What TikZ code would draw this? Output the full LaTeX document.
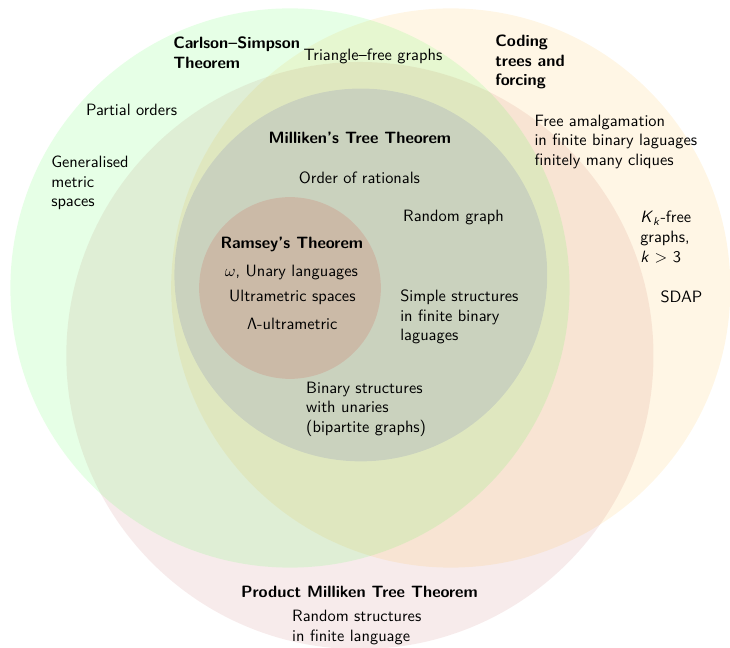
\documentclass[tikz,border=0pt]{standalone}
\usepackage{amsmath}
\usepackage{amssymb}

\definecolor{csgreen}{rgb}{0.3,1,0.3}
\definecolor{codeorange}{rgb}{1,0.65,0}
\definecolor{prodred}{rgb}{0.6,0,0}
\definecolor{millblue}{rgb}{0.05,0.1,0.7}
\definecolor{ramseyred}{rgb}{0.82,0.45,0.39}

\begin{document}
\begin{tikzpicture}[
  every node/.style={font=\sffamily, inner sep=0pt},
  title/.style={font=\sffamily\bfseries},
  block/.style={align=left, anchor=west}
]
\useasboundingbox (-6.223,-7.725) rectangle (9.442,6.180);

% Circles
\fill[prodred, fill opacity=0.08] (1.5,-1.45) circle (6.3);
\fill[codeorange, fill opacity=0.1] (3.45,0) circle (6);
\fill[csgreen, fill opacity=0.14] (0,0) circle (6);
\fill[millblue, fill opacity=0.1] (1.52,0.28) circle (4);
\fill[ramseyred, fill opacity=0.25] (0,0) circle (1.95);

% Carlson--Simpson
\node[title, block] (cs) at (-2.51,5.05) {Carlson--Simpson\\Theorem};
\node (tri) at (1.78,4.96) {Triangle--free graphs};
\node (po) at (-3.40,3.82) {Partial orders};
\node[block] (gms) at (-5.13,2.25) {Generalised\\metric\\spaces};

% Coding trees
\node[title, block] (ct) at (4.40,4.85) {Coding\\trees and\\forcing};
\node[block] (fa) at (5.24,3.14) {Free amalgamation\\in finite binary laguages\\finitely many cliques};
\node[block] (kk) at (7.51,1.09) {\textit{K}\textsubscript{\textit{k}}-free\\graphs,\\\textit{k} $>$ 3};
\node (sdap) at (8.40,-0.19) {SDAP};

% Milliken
\node[title] (mt) at (1.50,3.22) {Milliken's Tree Theorem};
\node (rat) at (1.49,2.36) {Order of rationals};
\node (rg) at (3.51,1.52) {Random graph};
\node[block] (ss) at (2.36,-0.62) {Simple structures\\in finite binary\\laguages};
\node[block] (bs) at (0.34,-2.60) {Binary structures\\with unaries\\(bipartite graphs)};

% Ramsey
\node[title] (rt) at (0.04,0.94) {Ramsey's Theorem};
\node (un) at (0.03,0.34) {$\omega$, Unary languages};
\node (um) at (0.05,-0.21) {Ultrametric spaces};
\node (lu) at (0.05,-0.77) {$\mathsf{\Lambda}$-ultrametric};

% Product Milliken
\node[title] (pm) at (1.49,-6.52) {Product Milliken Tree Theorem};
\node[block] (rs) at (0.04,-7.29) {Random structures\\in finite language};
\end{tikzpicture}
\end{document}
